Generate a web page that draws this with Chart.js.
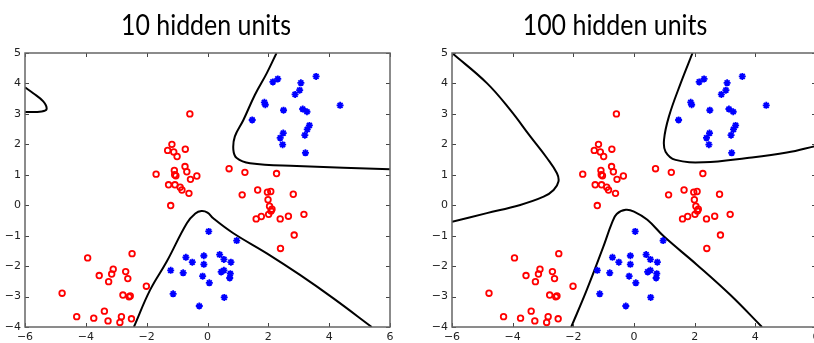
<!DOCTYPE html>
<html>
<head>
<meta charset="utf-8">
<script src="https://cdn.jsdelivr.net/npm/chart.js@4.4.1/dist/chart.umd.min.js"></script>
<style>
  body { margin: 0; width: 814px; height: 343px; overflow: hidden; background: #fff; position: relative; }
  #left { position: absolute; left: 0; top: 0; }
  #right { position: absolute; left: 420px; top: 0; }
</style>
</head>
<body>
<canvas id="left" width="400" height="343"></canvas>
<canvas id="right" width="410" height="343"></canvas>
<script>
// -- training points (same in both panels) --
const redPoints = [
  [-0.58, 3.0], [-1.17, 2.0], [-1.31, 1.8], [-1.11, 1.75], [-0.73, 1.84], [-1.0, 1.6],
  [-1.69, 1.02], [-1.09, 1.14], [-1.08, 1.0], [-1.04, 0.97], [-0.74, 1.27], [-0.68, 1.1],
  [-0.35, 0.96], [-0.56, 0.85], [-1.28, 0.67], [-1.07, 0.67], [-0.9, 0.59], [-0.84, 0.5],
  [-0.61, 0.39], [-1.21, -0.01],
  [-4.78, -2.89], [-4.3, -3.66], [-3.74, -3.71], [-3.27, -3.8], [-3.39, -3.48], [-3.94, -1.73],
  [-3.56, -2.31], [-3.25, -2.51], [-3.15, -2.26], [-3.1, -2.1], [-2.69, -2.18], [-2.62, -2.41],
  [-2.48, -1.59], [-2.78, -2.95], [-2.58, -3.01], [-2.54, -2.98], [-2.83, -3.66], [-2.88, -3.85],
  [-2.5, -3.73], [-2.01, -2.66],
  [0.71, 1.2], [1.23, 1.08], [2.27, 1.04], [1.14, 0.34], [1.65, 0.5], [1.97, 0.43],
  [2.08, 0.45], [2.82, 0.36], [1.99, 0.18], [2.04, -0.03], [2.12, -0.13], [2.09, -0.19],
  [2.01, -0.3], [1.77, -0.37], [1.6, -0.45], [2.39, -0.45], [2.66, -0.36], [3.17, -0.3],
  [2.85, -0.98], [2.4, -1.42]
];
const bluePoints = [
  [2.15, 4.05], [2.31, 4.15], [3.07, 4.02], [3.57, 4.23], [3.03, 3.78], [2.88, 3.64],
  [1.87, 3.38], [1.9, 3.3], [2.5, 3.12], [3.13, 3.16], [3.27, 3.07], [4.36, 3.28],
  [1.47, 2.8], [3.35, 2.62], [3.28, 2.49], [2.49, 2.37], [2.39, 2.21], [3.2, 2.3],
  [2.47, 1.99], [3.22, 1.72],
  [0.04, -0.86], [0.96, -1.16], [-0.71, -1.71], [-0.12, -1.66], [-0.5, -1.87], [-0.12, -1.94],
  [-1.21, -2.14], [-0.8, -2.22], [-0.16, -2.33], [0.06, -2.55], [-1.13, -2.91], [-0.27, -3.31],
  [0.4, -1.62], [0.54, -1.78], [0.77, -1.87], [0.45, -2.19], [0.54, -2.14], [0.75, -2.25],
  [0.73, -2.39], [0.55, -3.03]
];

// -- decision boundaries, 10 hidden units --
const b10Corner = [[-6, 3.87], [-5.73, 3.68], [-5.4, 3.41], [-5.29, 3.16], [-5.45, 3.08], [-6, 3.06]];
const b10Top = [[2.27, 5], [1.95, 4.34], [1.56, 3.63], [1.18, 2.8], [0.9, 2.26], [0.85, 1.82],
  [0.96, 1.55], [1.4, 1.38], [2.93, 1.29], [6, 1.18]];
const b10Bottom = [[-2.42, -4], [-1.89, -2.79], [-1.34, -1.85], [-0.68, -0.59], [-0.4, -0.27],
  [-0.2, -0.19], [0.0, -0.24], [0.19, -0.43], [0.85, -0.92], [1.95, -1.58], [3.04, -2.29],
  [4.14, -3.06], [5.4, -4]];

// -- decision boundaries, 100 hidden units --
const b100Left = [[-6, 5], [-4.85, 4.01], [-4.08, 3.13], [-3.42, 2.26], [-2.87, 1.55], [-2.54, 1.05],
  [-2.49, 0.78], [-2.65, 0.5], [-2.98, 0.28], [-3.75, 0.01], [-4.85, -0.26], [-6, -0.54]];
const b100Top = [[1.93, 5], [1.54, 4.01], [1.15, 2.91], [0.99, 2.15], [1.04, 1.76], [1.37, 1.49],
  [2.3, 1.41], [3.73, 1.55], [5.04, 1.73], [6, 1.95]];
const b100Bottom = [[-2.07, -4], [-1.56, -2.79], [-1.01, -1.36], [-0.73, -0.59], [-0.57, -0.29],
  [-0.27, -0.15], [0, -0.21], [0.44, -0.48], [0.99, -1.03], [2.08, -1.96], [3.18, -2.95], [4.22, -4]];

const xTicks = [-6, -4, -2, 0, 2, 4, 6];
const yTicks = [-4, -3, -2, -1, 0, 1, 2, 3, 4, 5];

const toXY = arr => arr.map(p => ({x: p[0], y: p[1]}));
const minus = v => (v < 0 ? '\u2212' + Math.abs(v) : '' + v);

// --> frame with inward ticks on all four sides <--
const framePlugin = {
  id: 'frame',
  afterDatasetsDraw(chart) {
    const {ctx, chartArea: a, scales} = chart;
    ctx.save();
    ctx.strokeStyle = '#444';
    ctx.lineWidth = 1;
    ctx.beginPath();
    scales.x.ticks.forEach(t => {
      const px = Math.round(scales.x.getPixelForValue(t.value)) + 0.5;
      ctx.moveTo(px, a.bottom); ctx.lineTo(px, a.bottom - 4);
      ctx.moveTo(px, a.top); ctx.lineTo(px, a.top + 4);
    });
    scales.y.ticks.forEach(t => {
      const py = Math.round(scales.y.getPixelForValue(t.value)) + 0.5;
      ctx.moveTo(a.left, py); ctx.lineTo(a.left + 4, py);
      ctx.moveTo(a.right, py); ctx.lineTo(a.right - 4, py);
    });
    ctx.stroke();
    ctx.strokeStyle = '#666';
    ctx.lineWidth = 1.5;
    ctx.strokeRect(a.left, a.top, a.right - a.left, a.bottom - a.top);
    ctx.restore();
  }
};

// --> title above each panel (narrowed a bit, the original face is condensed) <--
const headingPlugin = {
  id: 'heading',
  afterDraw(chart, args, opts) {
    const ctx = chart.ctx;
    ctx.save();
    ctx.translate(opts.center, 35);
    ctx.scale(0.86, 1);
    ctx.font = '29px Lato';
    ctx.fillStyle = '#000';
    ctx.textAlign = 'center';
    ctx.textBaseline = 'alphabetic';
    ctx.fillText(opts.text, 0, 0);
    ctx.restore();
  }
};

function boundary(arr) {
  return {
    data: toXY(arr), showLine: true, borderColor: '#000', borderWidth: 2,
    pointRadius: 0, pointHoverRadius: 0, tension: 0.4, fill: false
  };
}

function makeChart(id, title, center, yWidth, padRight, curves) {
  const datasets = [
    {data: toXY(bluePoints), pointStyle: 'star', pointRadius: 3.5, borderColor: '#0000ff',
     backgroundColor: '#0000ff', borderWidth: 1.8},
    {data: toXY(redPoints), pointStyle: 'circle', pointRadius: 2.8, borderColor: '#ff0000',
     backgroundColor: 'rgba(0,0,0,0)', borderWidth: 1.8}
  ].concat(curves.map(boundary));

  return new Chart(document.getElementById(id), {
    type: 'scatter',
    data: {datasets: datasets},
    options: {
      responsive: false,
      animation: false,
      devicePixelRatio: 1,
      layout: {padding: {top: 53, right: padRight, bottom: 0, left: 0}},
      plugins: {
        legend: {display: false},
        tooltip: {enabled: false},
        heading: {text: title, center: center}
      },
      scales: {
        x: {
          min: -6, max: 6,
          afterBuildTicks: s => { s.ticks = xTicks.map(v => ({value: v})); },
          afterFit: s => { s.height = 16; },
          grid: {display: false, drawTicks: false},
          border: {display: false},
          ticks: {callback: v => minus(v), color: '#222', padding: 4, maxRotation: 0,
                  autoSkip: false, font: {family: 'DejaVu Sans', size: 11}}
        },
        y: {
          min: -4, max: 5,
          afterBuildTicks: s => { s.ticks = yTicks.map(v => ({value: v})); },
          afterFit: s => { s.width = yWidth; },
          grid: {display: false, drawTicks: false},
          border: {display: false},
          ticks: {callback: v => minus(v), color: '#222', padding: 4,
                  autoSkip: false, font: {family: 'DejaVu Sans', size: 11}}
        }
      }
    },
    plugins: [framePlugin, headingPlugin]
  });
}

makeChart('left', '10 hidden units', 206, 25, 10, [b10Corner, b10Top, b10Bottom]);
makeChart('right', '100 hidden units', 195, 32, 14, [b100Left, b100Top, b100Bottom]);
</script>
</body>
</html>
